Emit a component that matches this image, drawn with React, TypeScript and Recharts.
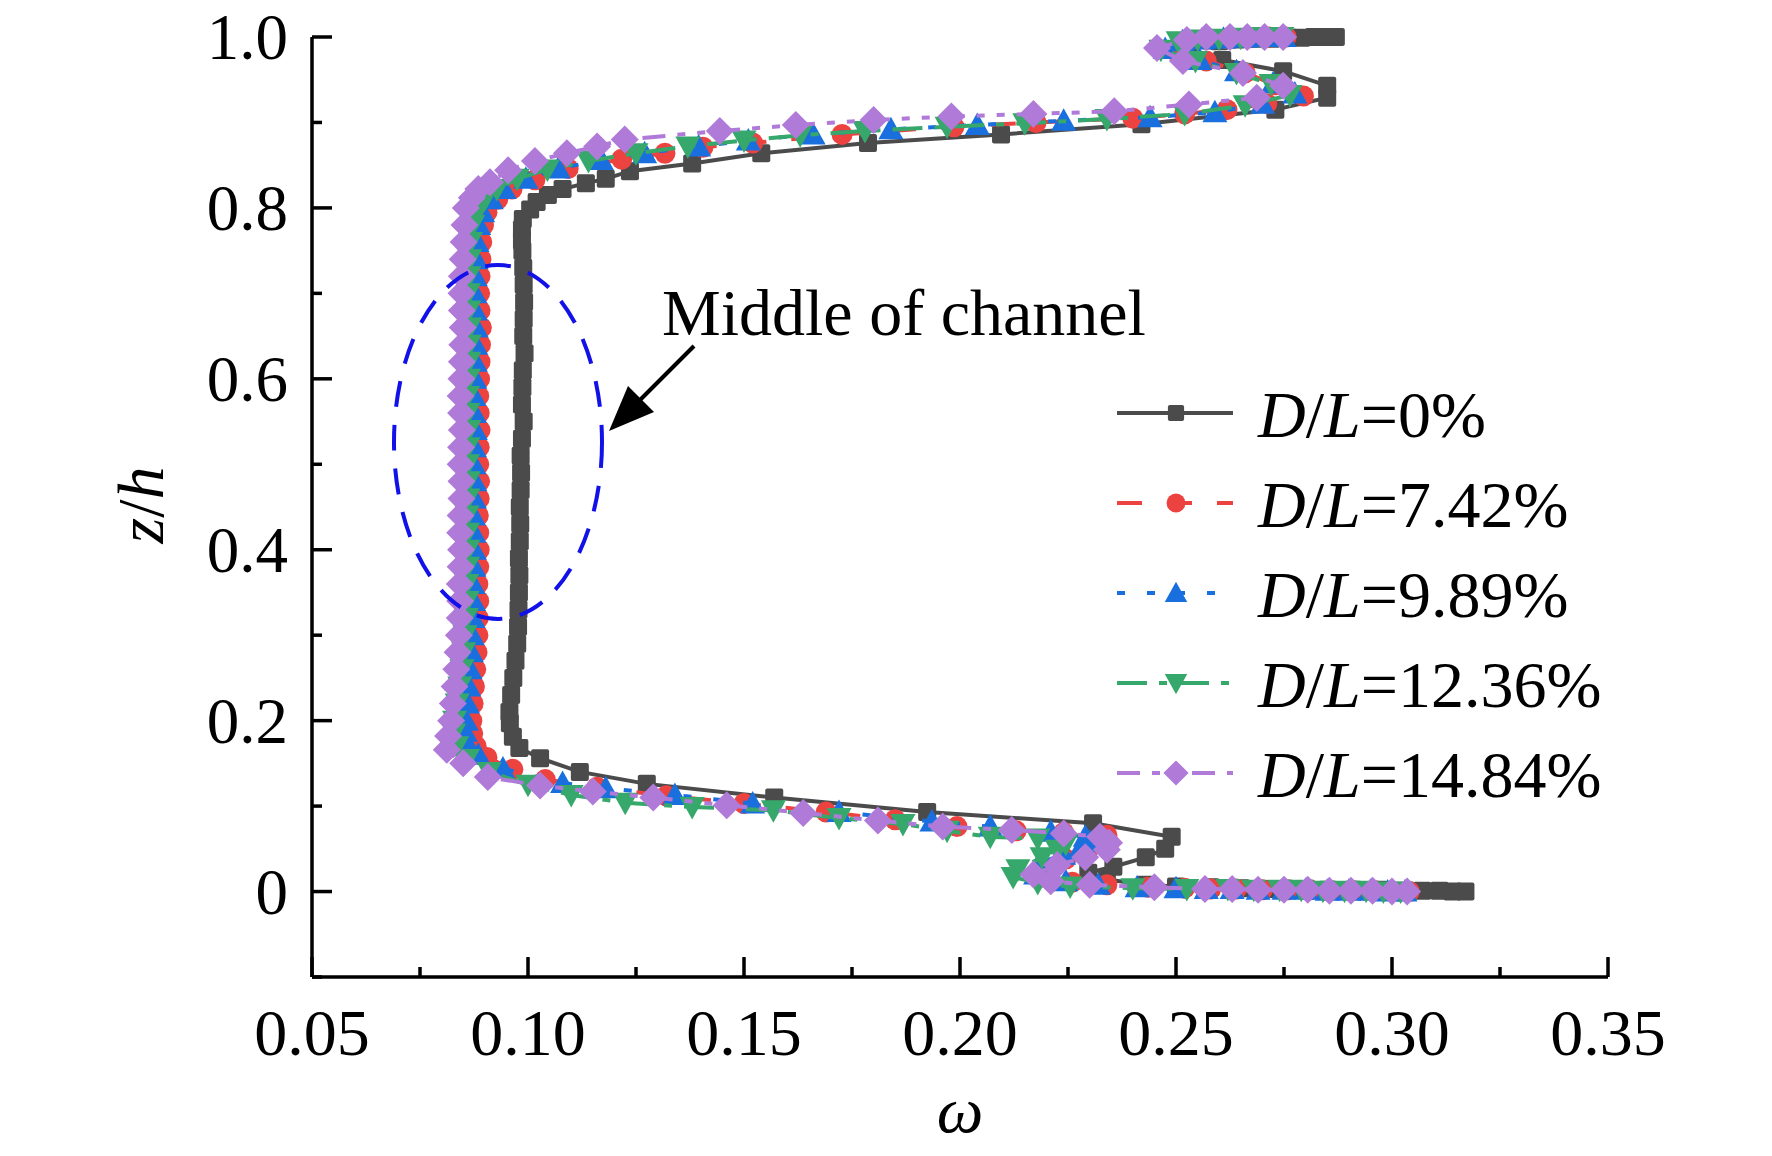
import React from "react";
import { ScatterChart, Scatter, XAxis, YAxis } from "recharts";

// axis ticks
const X_TICKS = [0.05, 0.075, 0.1, 0.125, 0.15, 0.175, 0.2, 0.225, 0.25, 0.275, 0.3, 0.325, 0.35];
const X_MAJOR = [0.05, 0.1, 0.15, 0.2, 0.25, 0.3, 0.35];
const Y_TICKS = [-0.1, 0, 0.1, 0.2, 0.3, 0.4, 0.5, 0.6, 0.7, 0.8, 0.9, 1.0];
const Y_MAJOR = [0, 0.2, 0.4, 0.6, 0.8, 1.0];

// [omega, z/h]
const DL_0: [number, number][] = [
  [0.317, 0.0], [0.314, 0.0], [0.311, 0.001], [0.307, 0.001], [0.302, 0.001], [0.297, 0.002],
  [0.291, 0.002], [0.285, 0.002], [0.279, 0.003], [0.272, 0.003], [0.265, 0.004], [0.258, 0.005],
  [0.25, 0.006], [0.243, 0.008], [0.234, 0.014], [0.2297, 0.022], [0.2355, 0.029], [0.243, 0.04],
  [0.2475, 0.05], [0.249, 0.064], [0.2308, 0.08], [0.1924, 0.093], [0.157, 0.11], [0.1275, 0.126],
  [0.112, 0.14], [0.1028, 0.156], [0.098, 0.168], [0.0965, 0.181], [0.0958, 0.197],
  [0.0957, 0.21], [0.0961, 0.23], [0.0966, 0.25], [0.0971, 0.27], [0.0975, 0.29], [0.0977, 0.31],
  [0.0978, 0.33], [0.0979, 0.35], [0.098, 0.37], [0.0979, 0.39], [0.0981, 0.41], [0.0982, 0.43],
  [0.0981, 0.45], [0.0983, 0.47], [0.0984, 0.49], [0.0983, 0.51], [0.0986, 0.53], [0.099, 0.55],
  [0.0986, 0.57], [0.0987, 0.59], [0.0988, 0.61], [0.0992, 0.63], [0.0989, 0.65], [0.099, 0.67],
  [0.0991, 0.69], [0.099, 0.71], [0.0989, 0.73], [0.0987, 0.75],
  [0.0986, 0.762], [0.0986, 0.775], [0.0988, 0.787], [0.1005, 0.798], [0.102, 0.807], [0.1046, 0.815],
  [0.108, 0.822], [0.1134, 0.829], [0.118, 0.834], [0.1236, 0.843], [0.138, 0.852], [0.154, 0.864],
  [0.1787, 0.876], [0.2095, 0.886], [0.242, 0.898], [0.273, 0.915], [0.285, 0.929], [0.285, 0.943],
  [0.2748, 0.96], [0.2607, 0.973], [0.2535, 0.985], [0.26, 0.995], [0.264, 0.997], [0.268, 0.998],
  [0.272, 0.998], [0.276, 0.999], [0.279, 0.999], [0.282, 1.0], [0.2845, 1.0], [0.287, 1.0],
];

const DL_742: [number, number][] = [
  [0.304, 0.0], [0.3, 0.0], [0.296, 0.001], [0.291, 0.001], [0.286, 0.001], [0.281, 0.002],
  [0.276, 0.002], [0.27, 0.002], [0.264, 0.003], [0.258, 0.003], [0.252, 0.004], [0.2435, 0.005],
  [0.234, 0.008], [0.226, 0.011], [0.219, 0.017], [0.2205, 0.027], [0.2245, 0.038], [0.2295, 0.048],
  [0.2345, 0.057], [0.234, 0.066], [0.224, 0.069], [0.213, 0.071], [0.1993, 0.076], [0.185, 0.084],
  [0.169, 0.093], [0.15, 0.103], [0.132, 0.112], [0.116, 0.122], [0.104, 0.131], [0.0965, 0.143],
  [0.0905, 0.157], [0.088, 0.17], [0.0872, 0.185],
  [0.087, 0.2], [0.0873, 0.22], [0.0876, 0.24], [0.0879, 0.26], [0.0882, 0.28], [0.0884, 0.3],
  [0.0885, 0.32], [0.0886, 0.34], [0.0884, 0.36], [0.0886, 0.38], [0.0887, 0.4], [0.0886, 0.42],
  [0.0885, 0.44], [0.0887, 0.46], [0.0888, 0.48], [0.0886, 0.5], [0.0887, 0.52], [0.0889, 0.54],
  [0.0887, 0.56], [0.0886, 0.58], [0.0888, 0.6], [0.0889, 0.62], [0.089, 0.64], [0.0892, 0.66],
  [0.0889, 0.68], [0.0888, 0.7], [0.0889, 0.72], [0.0891, 0.74], [0.0893, 0.76], [0.0897, 0.78],
  [0.0905, 0.795], [0.093, 0.81], [0.0963, 0.822], [0.1016, 0.833], [0.1093, 0.846], [0.1217, 0.857],
  [0.1317, 0.864], [0.1405, 0.871], [0.152, 0.876], [0.1727, 0.886], [0.1986, 0.895], [0.2176, 0.9],
  [0.24, 0.905], [0.252, 0.91], [0.2618, 0.915], [0.271, 0.922], [0.2795, 0.931], [0.273, 0.944],
  [0.266, 0.958], [0.257, 0.972], [0.2495, 0.985], [0.252, 0.993], [0.257, 0.997], [0.262, 0.998],
  [0.267, 0.999], [0.2715, 1.0], [0.2755, 1.0],
];

const DL_989: [number, number][] = [
  [0.303, 0.0], [0.299, 0.0], [0.295, 0.001], [0.29, 0.001], [0.285, 0.001], [0.28, 0.002],
  [0.275, 0.002], [0.269, 0.002], [0.263, 0.003], [0.257, 0.003], [0.25, 0.004], [0.241, 0.005],
  [0.232, 0.008], [0.2245, 0.012], [0.2175, 0.02], [0.2185, 0.034], [0.224, 0.043], [0.2278, 0.05],
  [0.23, 0.058], [0.229, 0.064], [0.221, 0.07], [0.207, 0.076], [0.1935, 0.082], [0.172, 0.093],
  [0.152, 0.103], [0.134, 0.113], [0.118, 0.121], [0.108, 0.127], [0.0942, 0.144], [0.0885, 0.16],
  [0.086, 0.173], [0.0855, 0.187],
  [0.0857, 0.2], [0.086, 0.22], [0.0863, 0.24], [0.0866, 0.26], [0.0869, 0.28], [0.0871, 0.3],
  [0.0873, 0.32], [0.0874, 0.34], [0.0873, 0.36], [0.0875, 0.38], [0.0876, 0.4], [0.0875, 0.42],
  [0.0874, 0.44], [0.0876, 0.46], [0.0877, 0.48], [0.0875, 0.5], [0.0876, 0.52], [0.0878, 0.54],
  [0.0876, 0.56], [0.0875, 0.58], [0.0877, 0.6], [0.0878, 0.62], [0.0879, 0.64], [0.088, 0.66],
  [0.0878, 0.68], [0.0877, 0.7], [0.0878, 0.72], [0.088, 0.74], [0.0882, 0.76], [0.0886, 0.78],
  [0.0895, 0.795], [0.0915, 0.81], [0.0945, 0.822], [0.0995, 0.834], [0.107, 0.846], [0.117, 0.856],
  [0.127, 0.864], [0.1395, 0.872], [0.151, 0.879], [0.166, 0.886], [0.184, 0.892], [0.204, 0.897],
  [0.224, 0.902], [0.244, 0.906], [0.259, 0.912], [0.27, 0.922], [0.2775, 0.934], [0.2725, 0.946],
  [0.264, 0.96], [0.2555, 0.973], [0.2475, 0.986], [0.2515, 0.995], [0.256, 0.997], [0.261, 0.998],
  [0.266, 0.999], [0.2705, 1.0], [0.275, 1.0],
];

const DL_1236: [number, number][] = [
  [0.302, 0.0], [0.298, 0.0], [0.294, 0.001], [0.289, 0.001], [0.284, 0.001], [0.279, 0.002],
  [0.274, 0.002], [0.268, 0.002], [0.262, 0.003], [0.2525, 0.003], [0.24, 0.004], [0.2255, 0.006],
  [0.218, 0.01], [0.2123, 0.017], [0.2134, 0.026], [0.219, 0.04], [0.2225, 0.049], [0.2245, 0.056],
  [0.218, 0.062], [0.207, 0.064], [0.197, 0.071], [0.1868, 0.079], [0.172, 0.086], [0.1568, 0.095],
  [0.138, 0.099], [0.1225, 0.104], [0.11, 0.113], [0.1, 0.125], [0.091, 0.14], [0.086, 0.155],
  [0.0835, 0.17], [0.0828, 0.185],
  [0.083, 0.2], [0.0836, 0.22], [0.0842, 0.24], [0.0847, 0.26], [0.0851, 0.28], [0.0854, 0.3],
  [0.0857, 0.32], [0.0859, 0.34], [0.0858, 0.36], [0.086, 0.38], [0.0861, 0.4], [0.086, 0.42],
  [0.0859, 0.44], [0.0861, 0.46], [0.0862, 0.48], [0.086, 0.5], [0.0861, 0.52], [0.0863, 0.54],
  [0.0861, 0.56], [0.086, 0.58], [0.0862, 0.6], [0.0863, 0.62], [0.0864, 0.64], [0.0865, 0.66],
  [0.0863, 0.68], [0.0862, 0.7], [0.0863, 0.72], [0.0865, 0.74], [0.0867, 0.76], [0.0872, 0.78],
  [0.0882, 0.795], [0.09, 0.81], [0.0928, 0.822], [0.0975, 0.834], [0.1045, 0.845], [0.114, 0.855],
  [0.125, 0.864], [0.137, 0.872], [0.15, 0.879], [0.163, 0.885], [0.178, 0.89], [0.197, 0.895],
  [0.215, 0.899], [0.234, 0.904], [0.252, 0.91], [0.266, 0.92], [0.2764, 0.932], [0.272, 0.945],
  [0.264, 0.958], [0.2545, 0.972], [0.2465, 0.985], [0.2505, 0.995], [0.255, 0.997], [0.26, 0.998],
  [0.265, 0.999], [0.27, 1.0], [0.2745, 1.0],
];

const DL_1484: [number, number][] = [
  [0.3035, 0.0], [0.3, 0.0], [0.2955, 0.001], [0.2905, 0.001], [0.2855, 0.001], [0.2805, 0.002],
  [0.275, 0.002], [0.269, 0.002], [0.263, 0.003], [0.2567, 0.003], [0.245, 0.005], [0.23, 0.008],
  [0.221, 0.012], [0.217, 0.02], [0.2225, 0.031], [0.229, 0.04], [0.234, 0.049], [0.2345, 0.057],
  [0.2324, 0.064], [0.224, 0.068], [0.212, 0.072], [0.196, 0.076], [0.181, 0.083], [0.1637, 0.092],
  [0.146, 0.101], [0.129, 0.11], [0.115, 0.117], [0.1028, 0.124], [0.0907, 0.134], [0.085, 0.15],
  [0.0812, 0.166], [0.0815, 0.182],
  [0.0822, 0.2], [0.0826, 0.22], [0.083, 0.24], [0.0834, 0.26], [0.0837, 0.28], [0.084, 0.3],
  [0.0842, 0.32], [0.0843, 0.34], [0.0842, 0.36], [0.0844, 0.38], [0.0845, 0.4], [0.0843, 0.42],
  [0.0844, 0.44], [0.0846, 0.46], [0.0846, 0.48], [0.0844, 0.5], [0.0845, 0.52], [0.0847, 0.54],
  [0.0845, 0.56], [0.0844, 0.58], [0.0846, 0.6], [0.0847, 0.62], [0.0848, 0.64], [0.0849, 0.66],
  [0.0847, 0.68], [0.0846, 0.7], [0.0847, 0.72], [0.0849, 0.74], [0.0851, 0.76], [0.0853, 0.78],
  [0.0856, 0.8], [0.087, 0.812], [0.0885, 0.822], [0.0912, 0.83], [0.0954, 0.844], [0.1016, 0.855],
  [0.109, 0.864], [0.116, 0.872], [0.1224, 0.88], [0.1444, 0.89], [0.162, 0.897], [0.18, 0.903],
  [0.198, 0.907], [0.217, 0.91], [0.2357, 0.913], [0.253, 0.921], [0.2687, 0.929], [0.2748, 0.943],
  [0.2655, 0.958], [0.2516, 0.972], [0.2456, 0.987], [0.2525, 0.9965], [0.257, 1.0], [0.2625, 1.0],
  [0.2665, 1.0], [0.2705, 1.0], [0.2748, 1.0],
];

const SERIES_NAMES = ["0%", "7.42%", "9.89%", "12.36%", "14.84%"];
const SERIES_DATA = [DL_0, DL_742, DL_989, DL_1236, DL_1484];
const SERIES_COLORS = ["#4b4b4b", "#ec4340", "#1a6fdf", "#37a86b", "#b07ad9"];
const SERIES_DASH = ["", "25 25", "8 22", "30 12 8 12", "23 12 8 12 8 12"];
const SERIES_SHAPES = ["square", "circle", "triangle", "triangleDown", "diamond"];

const FONT = "Liberation Serif, Times New Roman, serif";
const W = 1772;
const H = 1156;

function Marker({ kind, cx, cy, color, s = 1 }: { kind: string; cx: number; cy: number; color: string; s?: number }) {
  if (cx == null || cy == null) return null;
  switch (kind) {
    case "square":
      return <rect x={cx - 9 * s} y={cy - 9 * s} width={18 * s} height={18 * s} rx={2} fill={color} />;
    case "circle":
      return <circle cx={cx} cy={cy} r={10.5 * s} fill={color} />;
    case "triangle":
      return (
        <polygon
          points={`${cx},${cy - 12.5 * s} ${cx + 12.5 * s},${cy + 10 * s} ${cx - 12.5 * s},${cy + 10 * s}`}
          fill={color}
        />
      );
    case "triangleDown":
      return (
        <polygon
          points={`${cx},${cy + 12.5 * s} ${cx + 12.5 * s},${cy - 10 * s} ${cx - 12.5 * s},${cy - 10 * s}`}
          fill={color}
        />
      );
    default:
      return (
        <polygon
          points={`${cx},${cy - 14 * s} ${cx + 14 * s},${cy} ${cx},${cy + 14 * s} ${cx - 14 * s},${cy}`}
          fill={color}
        />
      );
  }
}

function XTick(props: any) {
  const { x, y, payload } = props;
  const v = payload.value as number;
  const major = X_MAJOR.some((m) => Math.abs(m - v) < 1e-9);
  return (
    <g>
      <line x1={x} x2={x} y1={y} y2={y - (major ? 20 : 10)} stroke="#000" strokeWidth={3.5} />
      {major && (
        <text x={x} y={y + 78} textAnchor="middle" fontFamily={FONT} fontSize={66} fill="#000">
          {v.toFixed(2)}
        </text>
      )}
    </g>
  );
}

function YTick(props: any) {
  const { x, y, payload } = props;
  const v = payload.value as number;
  const major = Y_MAJOR.some((m) => Math.abs(m - v) < 1e-9);
  return (
    <g>
      <line x1={x} x2={x + (major ? 20 : 10)} y1={y} y2={y} stroke="#000" strokeWidth={3.5} />
      {major && (
        <text x={x - 24} y={y} dy="0.34em" textAnchor="end" fontFamily={FONT} fontSize={65} fill="#000">
          {v === 0 ? "0" : v.toFixed(1)}
        </text>
      )}
    </g>
  );
}

function LegendBox() {
  return (
    <g>
      {SERIES_NAMES.map((name, i) => {
        const yc = 413 + i * 90;
        return (
          <g key={name}>
            <line
              x1={1117}
              x2={1233}
              y1={yc}
              y2={yc}
              stroke={SERIES_COLORS[i]}
              strokeWidth={4}
              strokeDasharray={SERIES_DASH[i] || undefined}
            />
            <Marker kind={SERIES_SHAPES[i]} cx={1176} cy={yc} color={SERIES_COLORS[i]} s={0.9} />
            <text x={1258} y={yc + 24} fontFamily={FONT} fontSize={66} fill="#000">
              <tspan fontStyle="italic">D</tspan>/<tspan fontStyle="italic">L</tspan>={name}
            </text>
          </g>
        );
      })}
    </g>
  );
}

export default function App() {
  return (
    <div style={{ position: "relative", width: W, height: H, background: "#fff" }}>
      <style>{"body{margin:0}"}</style>
      <ScatterChart width={W} height={H} margin={{ top: 37, right: 164, bottom: 79, left: 192 }}>
        <XAxis
          type="number"
          dataKey="w"
          domain={[0.05, 0.35]}
          ticks={X_TICKS}
          interval={0}
          tick={<XTick />}
          tickLine={false}
          tickSize={0}
          tickMargin={0}
          axisLine={{ stroke: "#000", strokeWidth: 3.5 }}
          height={100}
        />
        <YAxis
          type="number"
          dataKey="z"
          domain={[-0.1, 1.0]}
          ticks={Y_TICKS}
          interval={0}
          tick={<YTick />}
          tickLine={false}
          tickSize={0}
          tickMargin={0}
          axisLine={{ stroke: "#000", strokeWidth: 3.5 }}
          width={120}
        />
        {SERIES_DATA.map((rows, i) => (
          <Scatter
            key={SERIES_NAMES[i]}
            name={SERIES_NAMES[i]}
            data={rows.map(([w, z]) => ({ w, z }))}
            fill={SERIES_COLORS[i]}
            line={{ stroke: SERIES_COLORS[i], strokeWidth: 4, strokeDasharray: SERIES_DASH[i] || undefined }}
            lineType="joint"
            isAnimationActive={false}
            shape={(p: any) => <Marker kind={SERIES_SHAPES[i]} cx={p.cx} cy={p.cy} color={SERIES_COLORS[i]} />}
          />
        ))}
      </ScatterChart>
      <svg
        width={W}
        height={H}
        style={{ position: "absolute", left: 0, top: 0, pointerEvents: "none" }}
      >
        <LegendBox />
        <ellipse cx={498} cy={442} rx={104} ry={177} fill="none" stroke="#1212e8" strokeWidth={4} strokeDasharray="26 18" />
        <line x1={694} y1={346} x2={640} y2={400} stroke="#000" strokeWidth={4} />
        <polygon points="609,431 654,412 628,386" fill="#000" />
        <text x={662} y={335} fontFamily={FONT} fontSize={66} fill="#000">
          Middle of channel
        </text>
        <text x={960} y={1132} textAnchor="middle" fontFamily={FONT} fontSize={66} fontStyle="italic" fill="#000">
          ω
        </text>
        <text
          transform="translate(163,505) rotate(-90)"
          textAnchor="middle"
          fontFamily={FONT}
          fontSize={66}
          fill="#000"
        >
          <tspan fontStyle="italic">z</tspan>/<tspan fontStyle="italic">h</tspan>
        </text>
      </svg>
    </div>
  );
}
